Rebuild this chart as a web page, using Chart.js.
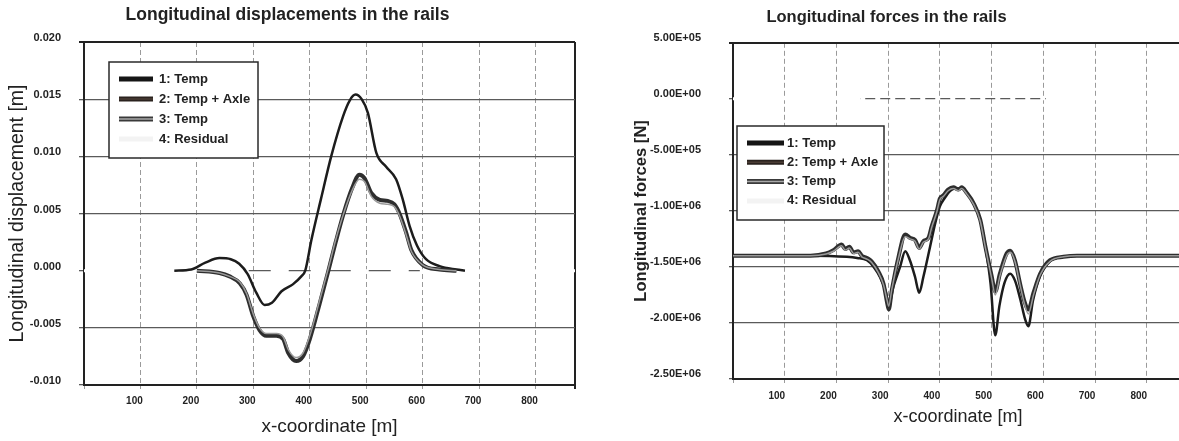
<!DOCTYPE html>
<html>
<head>
<meta charset="utf-8">
<script src="https://cdn.jsdelivr.net/npm/chart.js@4.4.0/dist/chart.umd.min.js"></script>
<style>
  html, body { margin: 0; padding: 0; background: #fff; overflow: hidden; width: 1179px; height: 441px; }
  #disp_chart { position: absolute; left: 0; top: 0; }
  #force_chart { position: absolute; left: 590px; top: 0; }
</style>
</head>
<body>
<canvas id="disp_chart" width="590" height="441"></canvas>
<canvas id="force_chart" width="600" height="441"></canvas>
<script>
// ---- data ----
const seriesLabels = ['1: Temp', '2: Temp + Axle', '3: Temp', '4: Residual'];

// x axis, same for both plots
const xTickValues = [0, 100, 200, 300, 400, 500, 600, 700, 800, 870];
const xTickLabels = ['', '100', '200', '300', '400', '500', '600', '700', '800', ''];

// left plot: displacements [m]
const dispTickValues = [-0.010, -0.005, 0, 0.005, 0.010, 0.015, 0.020];
const dispTickLabels = ['-0.010', '-0.005', '0.000', '0.005', '0.010', '0.015', '0.020'];

const dispX1 = [160, 190, 215, 240, 260, 275, 290, 305, 320, 333, 350, 370, 385, 392, 403, 420, 438, 459, 471, 481, 492, 503, 518, 535, 553, 565, 577, 590, 606, 630, 660, 675];
const dispY1 = [0, 0.0001, 0.0007, 0.0011, 0.0010, 0.0006, -0.0003, -0.0019, -0.0030, -0.0028, -0.0018, -0.0012, -0.0005, 0, 0.0027, 0.0063, 0.0100, 0.0135, 0.0149, 0.0154, 0.0150, 0.0138, 0.0103, 0.0091, 0.0080, 0.0062, 0.0039, 0.0022, 0.0010, 0.0004, 0.0001, 0];

const dispX23 = [200, 240, 258, 276, 288, 300, 311, 323, 341, 353, 362, 376, 388, 400, 418, 433, 446, 460, 475, 488, 497, 509, 524, 538, 550, 559, 571, 580, 600, 630, 660];
const dispY2 = [0, -0.0002, -0.0005, -0.0011, -0.0021, -0.0040, -0.0052, -0.0057, -0.0057, -0.0060, -0.0072, -0.0079, -0.0075, -0.0060, -0.0028, 0, 0.0025, 0.0050, 0.0072, 0.0084, 0.0081, 0.0068, 0.0062, 0.0061, 0.0058, 0.0050, 0.0033, 0.0018, 0.0005, 0.0001, 0];
const dispY3 = [0, -0.0002, -0.0005, -0.0010, -0.0020, -0.0038, -0.0050, -0.0055, -0.0055, -0.0058, -0.0069, -0.0076, -0.0072, -0.0057, -0.0025, 0.0002, 0.0027, 0.0050, 0.0070, 0.0080, 0.0078, 0.0065, 0.0059, 0.0058, 0.0056, 0.0048, 0.0031, 0.0017, 0.0005, 0.0001, 0];

const dispResX = [0, 260, 595, 870];
const dispResY = [0, 0, 0, 0];

// right plot: forces [N]
const forceTickValues = [-2.5e6, -2.0e6, -1.5e6, -1.0e6, -5e5, 0, 5e5];
const forceTickLabels = ['-2.50E+06', '-2.00E+06', '-1.50E+06', '-1.00E+06', '-5.00E+05', '0.00E+00', '5.00E+05'];

const forceX1 = [0, 150, 220, 240, 259, 272, 284, 296, 301, 310, 323, 333, 342, 352, 360, 368, 381, 391, 400, 410, 420, 430, 442, 452, 465, 478, 488, 498, 507, 515, 525, 536, 545, 555, 565, 571, 580, 594, 613, 639, 665, 700, 870];
const forceY1 = [-1.40e6, -1.40e6, -1.41e6, -1.42e6, -1.44e6, -1.50e6, -1.59e6, -1.73e6, -1.85e6, -1.68e6,
  -1.50e6, -1.36e6, -1.44e6, -1.59e6, -1.73e6, -1.59e6, -1.32e6, -1.11e6, -0.96e6, -0.88e6,
  -0.82e6, -0.80e6, -0.80e6, -0.84e6, -0.93e6, -1.08e6, -1.32e6, -1.65e6, -2.11e6, -1.85e6,
  -1.64e6, -1.56e6, -1.62e6, -1.78e6, -1.97e6, -2.03e6, -1.80e6, -1.58e6, -1.45e6, -1.41e6,
  -1.40e6, -1.40e6, -1.40e6];

const forceX23 = [0, 150, 180, 194, 210, 217, 225, 233, 242, 249, 259, 268, 281, 291, 298, 301, 307, 320, 333, 342, 352, 360, 368, 378, 384, 394, 400, 407, 416, 426, 436, 442, 452, 465, 478, 488, 500, 507, 516, 529, 536, 545, 555, 563, 571, 581, 594, 613, 639, 665, 700, 870];
const forceY2 = [-1.40e6, -1.40e6, -1.38e6, -1.35e6, -1.30e6, -1.34e6, -1.32e6, -1.37e6, -1.36e6, -1.40e6,
  -1.42e6, -1.45e6, -1.54e6, -1.65e6, -1.82e6, -1.88e6, -1.71e6, -1.41e6, -1.21e6, -1.24e6,
  -1.26e6, -1.33e6, -1.27e6, -1.24e6, -1.14e6, -1.00e6, -0.89e6, -0.86e6, -0.81e6, -0.79e6,
  -0.81e6, -0.79e6, -0.84e6, -0.93e6, -1.08e6, -1.32e6, -1.58e6, -1.72e6, -1.56e6, -1.38e6,
  -1.355e6, -1.44e6, -1.65e6, -1.80e6, -1.88e6, -1.73e6, -1.56e6, -1.44e6, -1.41e6, -1.40e6,
  -1.40e6, -1.40e6];
const forceY3 = [-1.40e6, -1.40e6, -1.385e6, -1.36e6, -1.31e6, -1.35e6, -1.33e6, -1.38e6, -1.37e6, -1.41e6,
  -1.43e6, -1.46e6, -1.55e6, -1.66e6, -1.80e6, -1.85e6, -1.70e6, -1.42e6, -1.23e6, -1.25e6,
  -1.27e6, -1.34e6, -1.28e6, -1.25e6, -1.15e6, -1.01e6, -0.90e6, -0.87e6, -0.82e6, -0.80e6,
  -0.82e6, -0.80e6, -0.85e6, -0.94e6, -1.09e6, -1.33e6, -1.60e6, -1.75e6, -1.58e6, -1.40e6,
  -1.37e6, -1.45e6, -1.66e6, -1.82e6, -1.92e6, -1.75e6, -1.57e6, -1.45e6, -1.41e6, -1.40e6,
  -1.40e6, -1.40e6];

const forceResX = [0, 246, 605, 870];
const forceResY = [0, 0, 0, 0];


// pairs x/y arrays into points for a linear x scale
function toPoints(xs, ys) {
    return xs.map((x, i) => ({ x: x, y: ys[i] }));
}

// boxed legend drawn inside the plot area, like in the scanned figure
const boxLegend = {
    id: 'boxLegend',
    afterDraw(chart, args, opts) {
        const ctx = chart.ctx;
        ctx.save();
        ctx.fillStyle = '#fff';
        ctx.fillRect(opts.left, opts.top, opts.width, opts.height);
        ctx.lineWidth = 1.5;
        ctx.strokeStyle = '#2a2a2a';
        ctx.strokeRect(opts.left, opts.top, opts.width, opts.height);
        ctx.font = 'bold 13px "Liberation Sans", Arial, sans-serif';
        ctx.textBaseline = 'middle';
        chart.data.datasets.forEach((ds, i) => {
            const y = opts.top + opts.firstRow + i * opts.rowGap;
            ctx.beginPath();
            ctx.moveTo(opts.left + opts.lineStart, y);
            ctx.lineTo(opts.left + opts.lineEnd, y);
            ctx.lineWidth = 5;
            ctx.strokeStyle = ds.legendColor;
            ctx.stroke();
            if (ds.legendInner) {
                ctx.lineWidth = 1.5;
                ctx.strokeStyle = ds.legendInner;
                ctx.stroke();
            }
            ctx.fillStyle = '#222';
            ctx.fillText(ds.label, opts.left + opts.textStart, y);
        });
        ctx.restore();
    }
};

function makeDatasets(p1, p2, p3, pRes, resDash) {
    return [{
        label: seriesLabels[0],
        data: p1,
        borderColor: '#1c1c1c',
        borderWidth: 2.5,
        legendColor: '#151515',
        order: 3
    }, {
        label: seriesLabels[1],
        data: p2,
        borderColor: '#2e2e2e',
        borderWidth: 4,
        legendColor: '#2a221e',
        legendInner: '#4a3c34',
        order: 2
    }, {
        label: seriesLabels[2],
        data: p3,
        borderColor: '#9a9a9a',
        borderWidth: 1.5,
        legendColor: '#3a3a3a',
        legendInner: '#a8a8a8',
        order: 1
    }, {
        label: seriesLabels[3],
        data: pRes,
        borderColor: '#fff',
        borderWidth: 3,
        legendColor: '#f3f3f3',
        clip: 0,
        order: 4,
        segment: {
            borderDash: ctx => ctx.p0DataIndex === 1 ? resDash : undefined
        }
    }];
}

function xScale(labelOffset, labelPad, titleSize, titlePad, axisHeight) {
    return {
        type: 'linear',
        min: 0,
        max: 870,
        afterBuildTicks: scale => { scale.ticks = xTickValues.map(v => ({ value: v })); },
        afterFit: scale => { scale.height = axisHeight; },
        ticks: {
            autoSkip: false,
            maxRotation: 0,
            padding: labelPad,
            labelOffset: labelOffset,
            color: '#222',
            font: { size: 10, weight: 'bold' },
            callback: value => xTickLabels[xTickValues.indexOf(value)]
        },
        grid: {
            tickLength: 4,
            color: ctx => ctx.tick && ctx.tick.value === 870 ? '#222' : '#9a9a9a',
            lineWidth: ctx => ctx.tick && ctx.tick.value === 870 ? 2 : 1
        },
        border: {
            color: '#222',
            width: 2,
            dash: ctx => ctx.tick && ctx.tick.value !== 870 ? [5, 3] : []
        },
        title: {
            display: true,
            text: 'x-coordinate [m]',
            color: '#222',
            font: { size: titleSize },
            padding: { top: 0, bottom: titlePad }
        }
    };
}

Chart.defaults.font.family = '"Liberation Sans", Arial, sans-serif';

// left chart: displacements
new Chart(document.getElementById('disp_chart'), {
    type: 'line',
    data: {
        datasets: makeDatasets(toPoints(dispX1, dispY1), toPoints(dispX23, dispY2),
            toPoints(dispX23, dispY3), toPoints(dispResX, dispResY), [18, 22])
    },
    plugins: [boxLegend],
    options: {
        responsive: false,
        animation: false,
        events: [],
        cubicInterpolationMode: 'monotone',
        elements: { point: { radius: 0 } },
        layout: { padding: { left: 0, right: 15, top: 0, bottom: 0 } },
        scales: {
            x: xScale(-6, 6, 19, 3, 56),
            y: {
                min: -0.010,
                max: 0.020,
                afterBuildTicks: scale => { scale.ticks = dispTickValues.map(v => ({ value: v })); },
                afterFit: scale => { scale.width = 84; },
                ticks: {
                    padding: 18,
                    labelOffset: -4,
                    color: '#222',
                    font: { size: 11, weight: 'bold' },
                    callback: value => dispTickLabels[dispTickValues.indexOf(value)]
                },
                grid: {
                    tickLength: 5,
                    color: ctx => ctx.tick && ctx.tick.value === 0.020 ? '#222' : '#5a5a5a',
                    lineWidth: ctx => ctx.tick && ctx.tick.value === 0.020 ? 2 : 1.3
                },
                border: { color: '#222', width: 2 },
                title: {
                    display: true,
                    text: 'Longitudinal displacement [m]',
                    color: '#222',
                    font: { size: 19.5 },
                    padding: { top: 6, bottom: 0 }
                }
            }
        },
        plugins: {
            legend: { display: false },
            tooltip: { enabled: false },
            title: {
                display: true,
                text: 'Longitudinal displacements in the rails',
                color: '#222',
                font: { size: 17.5, weight: 'bold' },
                padding: { top: 5, bottom: 16 }
            },
            boxLegend: { left: 109, top: 62, width: 149, height: 96, firstRow: 17, rowGap: 20, lineStart: 10, lineEnd: 44, textStart: 50 }
        }
    }
});

// right chart: forces
new Chart(document.getElementById('force_chart'), {
    type: 'line',
    data: {
        datasets: makeDatasets(toPoints(forceX1, forceY1), toPoints(forceX23, forceY2),
            toPoints(forceX23, forceY3), toPoints(forceResX, forceResY), [5, 10])
    },
    plugins: [boxLegend],
    options: {
        responsive: false,
        animation: false,
        events: [],
        cubicInterpolationMode: 'monotone',
        elements: { point: { radius: 0 } },
        layout: { padding: { left: 0, right: 7, top: 0, bottom: 0 } },
        scales: {
            x: xScale(-8, 7, 18, 13, 62),
            y: {
                min: -2.5e6,
                max: 5e5,
                afterBuildTicks: scale => { scale.ticks = forceTickValues.map(v => ({ value: v })); },
                afterFit: scale => { scale.width = 143; },
                ticks: {
                    padding: 28,
                    labelOffset: -5,
                    color: '#222',
                    font: { size: 11, weight: 'bold' },
                    callback: value => forceTickLabels[forceTickValues.indexOf(value)]
                },
                grid: {
                    tickLength: 4,
                    color: ctx => ctx.tick && ctx.tick.value === 5e5 ? '#222' : '#5a5a5a',
                    lineWidth: ctx => ctx.tick && ctx.tick.value === 5e5 ? 2 : 1.3
                },
                border: { color: '#222', width: 2 },
                title: {
                    display: true,
                    text: 'Longitudinal forces [N]',
                    color: '#222',
                    font: { size: 16.6, weight: 'bold' },
                    padding: { top: 41, bottom: 0 }
                }
            }
        },
        plugins: {
            legend: { display: false },
            tooltip: { enabled: false },
            title: {
                display: true,
                text: 'Longitudinal forces in the rails',
                color: '#222',
                font: { size: 16.5, weight: 'bold' },
                padding: { top: 8, bottom: 15 }
            },
            boxLegend: { left: 147, top: 126, width: 147, height: 94, firstRow: 17, rowGap: 19.3, lineStart: 10, lineEnd: 47, textStart: 50 }
        }
    }
});
</script>
</body>
</html>
